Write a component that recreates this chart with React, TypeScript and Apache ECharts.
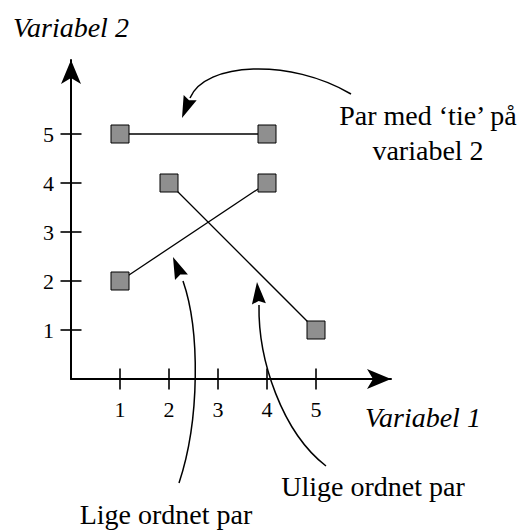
import { useEffect, useRef } from 'react';
import * as echarts from 'echarts';

const tickValues = [1, 2, 3, 4, 5];
const tiePair = [[1, 5], [4, 5]];
const concordantPair = [[1, 2], [4, 4]];
const discordantPair = [[2, 4], [5, 1]];
const xAxisTitle = 'Variabel 1';
const yAxisTitle = 'Variabel 2';
const tieLabel = ['Par med ‘tie’ på', 'variabel 2'];
const concordantLabel = 'Lige ordnet par';
const discordantLabel = 'Ulige ordnet par';

const FONT = 'Liberation Serif';

type P = [number, number];

function arrowHead(tip: P, from: P, len = 22, half = 7, notch = 3): number[][] {
  const dx = tip[0] - from[0];
  const dy = tip[1] - from[1];
  const d = Math.hypot(dx, dy);
  const ux = dx / d;
  const uy = dy / d;
  const bx = tip[0] - ux * len;
  const by = tip[1] - uy * len;
  const nx = -uy;
  const ny = ux;
  return [
    tip,
    [bx + nx * half, by + ny * half],
    [tip[0] - ux * (len - notch), tip[1] - uy * (len - notch)],
    [bx - nx * half, by - ny * half],
  ];
}

function curvedArrow(p0: P, c1: P, c2: P, p3: P, tip: P) {
  return [
    {
      type: 'bezierCurve',
      shape: { x1: p0[0], y1: p0[1], cpx1: c1[0], cpy1: c1[1], cpx2: c2[0], cpy2: c2[1], x2: p3[0], y2: p3[1] },
      style: { stroke: '#000', lineWidth: 1.5, fill: null },
      silent: true,
    },
    {
      type: 'polygon',
      shape: { points: arrowHead(tip, p3) },
      style: { fill: '#000' },
      silent: true,
    },
  ];
}

function lineSeries(data: number[][]) {
  return {
    type: 'line',
    data,
    symbol: 'rect',
    symbolSize: 18,
    showSymbol: true,
    clip: false,
    lineStyle: { color: '#000', width: 1.3 },
    itemStyle: { color: '#8f8f8f', borderColor: '#000', borderWidth: 1 },
    z: 3,
    silent: true,
  };
}

export default function App() {
  const ref = useRef<HTMLDivElement>(null);
  useEffect(() => {
    if (!ref.current) return;
    const chart = echarts.init(ref.current, undefined, { renderer: 'svg' });
    const textStyle = (text: string, x: number, y: number, align: string, italic = false, size = 28) => ({
      type: 'text',
      x,
      y,
      silent: true,
      style: {
        text,
        fill: '#000',
        fontFamily: FONT,
        fontSize: size,
        fontStyle: italic ? 'italic' : 'normal',
        textAlign: align,
        textVerticalAlign: 'middle',
      },
    });
    chart.setOption({
      animation: false,
      backgroundColor: '#fff',
      grid: { left: 71, top: 60, width: 320, height: 319, containLabel: false },
      xAxis: {
        type: 'value',
        min: 0,
        max: 320 / 49,
        splitLine: { show: false },
        axisLine: {
          onZero: false,
          lineStyle: { color: '#000', width: 2 },
          symbol: ['none', 'arrow'],
          symbolSize: [15, 24],
        },
        axisTick: { show: false },
        axisLabel: { customValues: tickValues, color: '#000', fontSize: 22, fontFamily: FONT, margin: 19 },
      },
      yAxis: {
        type: 'value',
        min: 0,
        max: 319 / 49,
        splitLine: { show: false },
        axisLine: {
          onZero: false,
          lineStyle: { color: '#000', width: 2 },
          symbol: ['none', 'arrow'],
          symbolSize: [15, 24],
        },
        axisTick: { show: false },
        axisLabel: { customValues: tickValues, color: '#000', fontSize: 22, fontFamily: FONT, margin: 17 },
      },
      series: [
        {
          type: 'scatter',
          data: tickValues.map((v) => [v, 0]),
          symbol: 'rect',
          symbolSize: [2, 21],
          itemStyle: { color: '#000' },
          clip: false,
          silent: true,
        },
        {
          type: 'scatter',
          data: tickValues.map((v) => [0, v]),
          symbol: 'rect',
          symbolSize: [21, 2],
          itemStyle: { color: '#000' },
          clip: false,
          silent: true,
        },
        lineSeries(tiePair),
        lineSeries(concordantPair),
        lineSeries(discordantPair),
      ],
      graphic: [
        textStyle(yAxisTitle, 13, 27.5, 'left', true),
        textStyle(xAxisTitle, 365, 417, 'left', true),
        textStyle(tieLabel[0], 428, 115.5, 'center'),
        textStyle(tieLabel[1], 428, 150.5, 'center'),
        textStyle(discordantLabel, 373, 486, 'center'),
        textStyle(concordantLabel, 166, 514, 'center'),
        ...curvedArrow([351, 94], [290, 58], [205, 62], [190, 98], [182, 118]),
        ...curvedArrow([179, 483], [200, 420], [200, 330], [183, 281], [173, 257]),
        ...curvedArrow([326, 466], [282, 432], [258, 360], [259, 305], [257, 282]),
      ],
    });
    return () => chart.dispose();
  }, []);
  return <div ref={ref} style={{ position: 'fixed', left: 0, top: 0, width: 531, height: 530 }} />;
}
